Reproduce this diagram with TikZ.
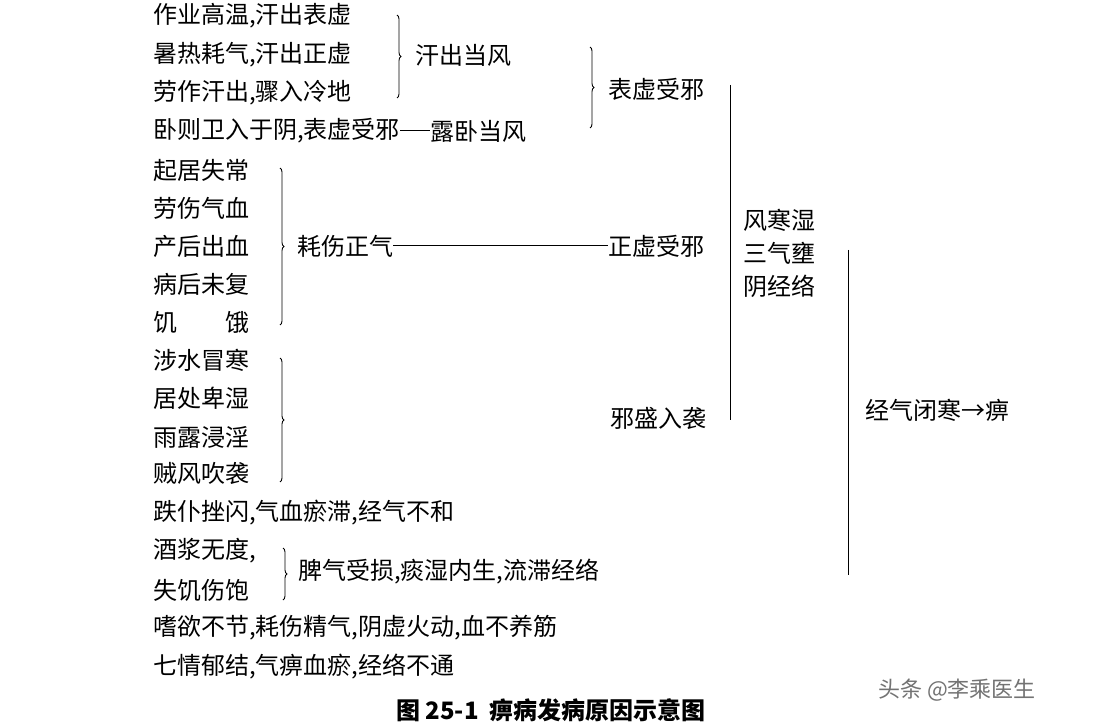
\documentclass[tikz,border=0pt]{standalone}
\usepackage{fontspec}
\setmainfont{Noto Sans CJK SC}
\usetikzlibrary{decorations.pathreplacing}
\begin{document}
\begin{tikzpicture}[x=1pt,y=-1pt,
  t/.style={anchor=west,inner sep=0pt,font=\fontsize{24}{24}\selectfont},
  br/.style={draw,line width=0.9pt,decorate,decoration={brace,amplitude=4pt}},
  ln/.style={draw,line width=1pt}]
\useasboundingbox (0,0) rectangle (1102,727);
\fill[white] (0,0) rectangle (1102,727);
\node[t] (a1) at (153,16) {作业高温,汗出表虚};
\node[t] (a2) at (153,55) {暑热耗气,汗出正虚};
\node[t] (a3) at (153,93) {劳作汗出,骤入冷地};
\node[t] (a4) at (153,131) {卧则卫入于阴,表虚受邪};
\node[t] (b1) at (153,170) {起居失常};
\node[t] (b2) at (153,208) {劳伤气血};
\node[t] (b3) at (153,246) {产后出血};
\node[t] (b4) at (153,284) {病后未复};
\node[t] (b5) at (153,322) {饥\hspace{48pt}饿};
\node[t] (c1) at (153,360) {涉水冒寒};
\node[t] (c2) at (153,398) {居处卑湿};
\node[t] (c3) at (153,437) {雨露浸淫};
\node[t] (c4) at (153,474) {贼风吹袭};
\node[t] (d1) at (153,513) {跌仆挫闪,气血瘀滞,经气不和};
\node[t] (d2) at (153,551) {酒浆无度,};
\node[t] (d3) at (153,590) {失饥伤饱};
\node[t] (d4) at (153,628) {嗜欲不节,耗伤精气,阴虚火动,血不养筋};
\node[t] (d5) at (153,667) {七情郁结,气痹血瘀,经络不通};
\node[t] (hc) at (415,55) {汗出当风};
\node[t] (ll) at (430,131) {露卧当风};
\node[t] (bx) at (608,89) {表虚受邪};
\node[t] (hs) at (297,246) {耗伤正气};
\node[t] (zx) at (608,246) {正虚受邪};
\node[t] (xs) at (610,418) {邪盛入袭};
\node[t] (pq) at (298,572) {脾气受损,痰湿内生,流滞经络};
\node[t,align=left,font=\fontsize{24}{33}\selectfont] (fh) at (743,253) {风寒湿\\三气壅\\阴经络};
\node[t] (jq) at (865,410) {经气闭寒→痹};
\node[anchor=north,inner sep=0pt,font=\fontsize{24}{24}\selectfont\bfseries] (cap) at (551,698) {图 25-1\ \ 痹病发病原因示意图};
\node[anchor=west,inner sep=0pt,text=black!55,font=\fontsize{22}{22}\selectfont] (wm) at (878,690) {头条 @李乘医生};
\draw[br] (397,15) -- (397,98);
\draw[br] (590,47) -- (590,128);
\draw[br] (280,168) -- (280,325);
\draw[br] (280,358) -- (280,482);
\draw[br] (283,548) -- (283,600);
\draw[ln] (a4.east) -- (ll.west);
\draw[ln] (hs.east) -- (zx.west);
\draw[ln] (730,85) -- (730,420);
\draw[ln] (848,250) -- (848,575);
\end{tikzpicture}
\end{document}
